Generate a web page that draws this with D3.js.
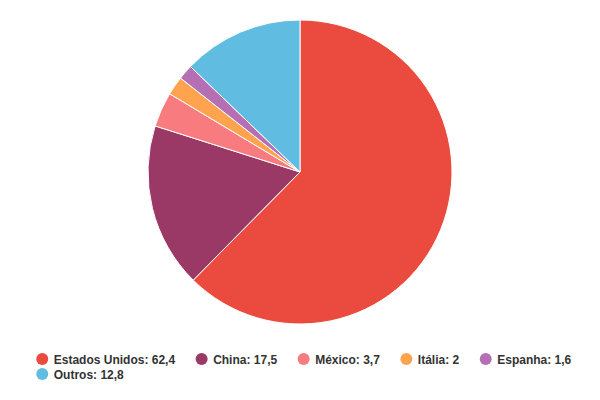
<!DOCTYPE html>
<html><head><meta charset="utf-8">
<script src="https://cdn.jsdelivr.net/npm/d3@7"></script>
<style>body{margin:0;background:#fff}svg{display:block}
.lt{font-family:Arial,Helvetica,sans-serif;font-size:12px;font-weight:bold;fill:#333}</style>
</head><body>
<svg id="c" width="600" height="400"></svg>
<script>
const categories = ["Estados Unidos", "China", "México", "Itália", "Espanha", "Outros"];
const values = [62.4, 17.5, 3.7, 2, 1.6, 12.8];
const colors = ["#EB4A3F", "#9A3866", "#F87B80", "#FFA34F", "#B56FB5", "#60BCE0"];

const data = categories.map((c, i) => ({name: c, value: values[i], color: colors[i]}));
const svg = d3.select("#c");
const cx = 300, cy = 172, r = 152;

const pie = d3.pie().value(d => d.value).sort(null);
const arc = d3.arc().innerRadius(0).outerRadius(r);
svg.append("g").attr("transform", `translate(${cx},${cy})`)
  .selectAll("path").data(pie(data)).join("path")
  .attr("d", arc).attr("fill", d => d.data.color)
  .attr("stroke", "#fff").attr("stroke-width", 1).attr("stroke-linejoin", "round");

const fmt = v => String(v).replace(".", ",");
const lg = svg.append("g");
const items = data.map(d => {
  const g = lg.append("g");
  g.append("circle").attr("r", 6).attr("cx", 6.5).attr("cy", 0).attr("fill", d.color);
  const t = g.append("text").attr("class", "lt").attr("x", 18).attr("y", 4.5)
    .text(`${d.name}: ${fmt(d.value)}`);
  return {g, w: 18 + t.node().getComputedTextLength()};
});
const gap = 20, maxW = 560;
let rows = [[]], rw = [0];
items.forEach(it => {
  const cur = rows.length - 1;
  const add = (rows[cur].length ? gap : 0) + it.w;
  if (rows[cur].length && rw[cur] + add > maxW) { rows.push([it]); rw.push(it.w); }
  else { rows[cur].push(it); rw[cur] += add; }
});
const startX = (600 - rw[0]) / 2 + 3.5;
rows.forEach((row, ri) => {
  let x = startX;
  row.forEach(it => {
    it.g.attr("transform", `translate(${x},${359 + ri * 15})`);
    x += it.w + gap;
  });
});
</script>
</body></html>
